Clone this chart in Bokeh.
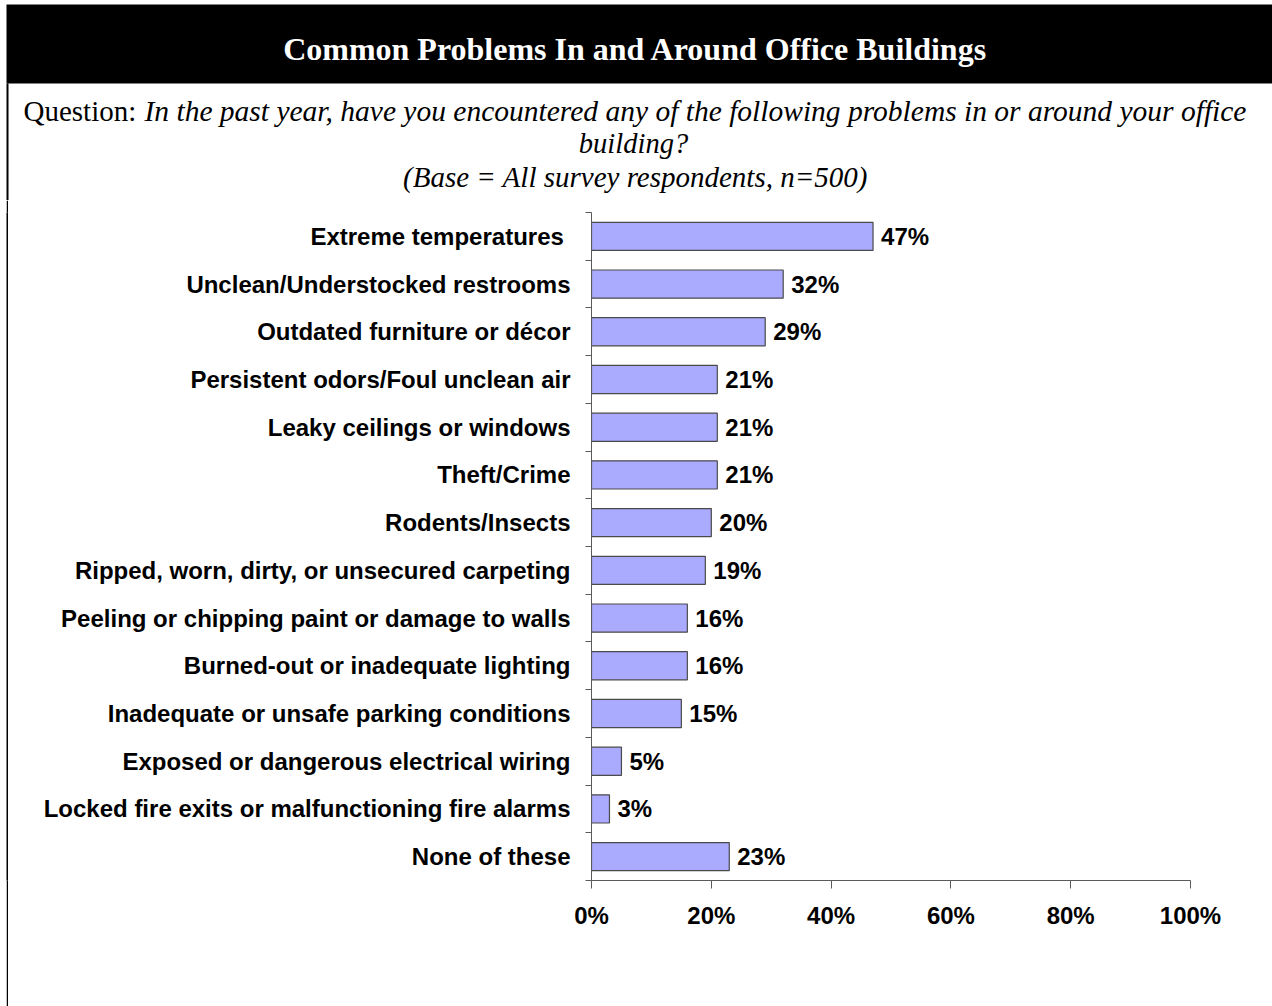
from bokeh.plotting import figure
from bokeh.layouts import column, row
from bokeh.models import Range1d, FixedTicker, PrintfTickFormatter, ColumnDataSource, Spacer
from bokeh.core.properties import value
from bokeh.embed import file_html
from bokeh.resources import INLINE

# ---------------- data ----------------
categories = [
    "Extreme temperatures ",
    "Unclean/Understocked restrooms",
    "Outdated furniture or décor",
    "Persistent odors/Foul unclean air",
    "Leaky ceilings or windows",
    "Theft/Crime",
    "Rodents/Insects",
    "Ripped, worn, dirty, or unsecured carpeting",
    "Peeling or chipping paint or damage to walls",
    "Burned-out or inadequate lighting",
    "Inadequate or unsafe parking conditions",
    "Exposed or dangerous electrical wiring",
    "Locked fire exits or malfunctioning fire alarms",
    "None of these",
]
values = [47, 32, 29, 21, 21, 21, 20, 19, 16, 16, 15, 5, 3, 23]
x_ticks = [0, 20, 40, 60, 80, 100]

title_text = "Common Problems In and Around Office Buildings"
question_lead = "Question: "
question_line1 = ("In the past year, have you encountered any of the following "
                  "problems in or around your office")
question_line2 = "building?"
base_note = "(Base = All survey respondents, n=500)"

SANS = "Liberation Sans"
SERIF = "Liberation Serif"
axis_color = "#5a5a5a"

TOTAL_W = 1272
HEAD_H = 200
BODY_H = 806
GAP_W = 6
LINE_W = 2


def bare(w, h, xr, yr):
    f = figure(width=w, height=h, x_range=xr, y_range=yr,
               output_backend="svg", toolbar_location=None,
               x_axis_location=None, y_axis_location=None, min_border=0)
    f.outline_line_color = None
    f.grid.visible = False
    f.background_fill_color = "white"
    f.border_fill_color = "white"
    return f


# ---------------- header (pixel coordinates) ----------------
head = bare(TOTAL_W, HEAD_H, Range1d(0, TOTAL_W), Range1d(HEAD_H, 0))
head.quad(left=[6], right=[TOTAL_W], top=[4], bottom=[83],
          fill_color="black", line_color=None)
head.quad(left=[6], right=[8], top=[83], bottom=[HEAD_H],
          fill_color="black", line_color=None)
head.text(x=[635], y=[48], text=[title_text], text_align="center",
          text_baseline="alphabetic", text_color="white",
          text_font=value(SERIF), text_font_style="bold", text_font_size="32px")
head.text(x=[23], y=[110], text=[question_lead], text_align="left",
          text_baseline="alphabetic", text_color="black",
          text_font=value(SERIF), text_font_style="normal", text_font_size="29px")
head.text(x=[144], y=[110], text=[question_line1], text_align="left",
          text_baseline="alphabetic", text_color="black",
          text_font=value(SERIF), text_font_style="italic", text_font_size="29.5px")
head.text(x=[633], y=[143], text=[question_line2], text_align="center",
          text_baseline="alphabetic", text_color="black",
          text_font=value(SERIF), text_font_style="italic", text_font_size="28.5px")
head.text(x=[635], y=[176], text=[base_note], text_align="center",
          text_baseline="alphabetic", text_color="black",
          text_font=value(SERIF), text_font_style="italic", text_font_size="29px")

# ---------------- left border strip (solid black plot) ----------------
gap = Spacer(width=GAP_W, height=BODY_H)
strip = bare(LINE_W, BODY_H, Range1d(0, 1), Range1d(0, 1))
strip.background_fill_color = "black"
strip.border_fill_color = "black"

# ---------------- chart ----------------
n = len(categories)
centers = [n - i - 0.5 for i in range(n)]
bounds = list(range(n + 1))

OFF = GAP_W + LINE_W
CW = TOTAL_W - OFF
FL, FR = 591 - OFF, 1190 - OFF
FT, FB = 212 - HEAD_H, 880 - HEAD_H

p = figure(width=CW, height=BODY_H, x_range=Range1d(0, 100), y_range=Range1d(0, n),
           output_backend="svg", toolbar_location=None,
           min_border_left=FL, min_border_right=CW - FR,
           min_border_top=FT, min_border_bottom=BODY_H - FB)
p.outline_line_color = None
p.grid.visible = False
p.background_fill_color = "white"
p.border_fill_color = "white"

ya = p.yaxis[0]
ya.ticker = FixedTicker(ticks=centers, minor_ticks=bounds)
ya.major_label_overrides = {c: cat for c, cat in zip(centers, categories)}
ya.major_tick_out = 0
ya.major_tick_in = 0
ya.minor_tick_out = 6
ya.minor_tick_in = 0
ya.minor_tick_line_color = axis_color
ya.axis_line_color = axis_color
ya.major_label_standoff = 15
ya.major_label_text_font = SANS
ya.major_label_text_font_style = "bold"
ya.major_label_text_font_size = "24px"
ya.major_label_text_color = "black"

xa = p.xaxis[0]
xa.ticker = FixedTicker(ticks=x_ticks, minor_ticks=[])
xa.formatter = PrintfTickFormatter(format="%d%%")
xa.major_tick_out = 8
xa.major_tick_in = 0
xa.minor_tick_out = 0
xa.minor_tick_in = 0
xa.major_tick_line_color = axis_color
xa.axis_line_color = axis_color
xa.major_label_standoff = 13
xa.major_label_text_font = SANS
xa.major_label_text_font_style = "bold"
xa.major_label_text_font_size = "24px"
xa.major_label_text_color = "black"

src = ColumnDataSource(dict(y=centers, v=values, lab=[f"{v}%" for v in values]))
p.hbar(y="y", left=0, right="v", height=0.59, source=src,
       fill_color="#AAAAFF", line_color="#4a4a4a", line_width=1.2)
p.text(x="v", y="y", text="lab", source=src, x_offset=8,
       text_align="left", text_baseline="middle", text_color="black",
       text_font=value(SANS), text_font_style="bold", text_font_size="24px")

layout = column(head, row(gap, strip, p, spacing=0), spacing=0)

open("out.html", "w").write(file_html(layout, INLINE))
